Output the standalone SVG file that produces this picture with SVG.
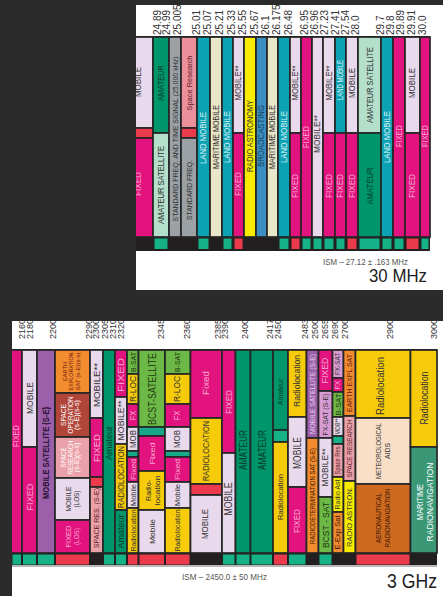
<svg xmlns="http://www.w3.org/2000/svg" width="443" height="596" viewBox="0 0 443 596">
<defs>
<style>
text{font-family:"Liberation Sans Narrow","Liberation Sans",Arial,sans-serif}
.c{stroke:#262626;stroke-width:1.7}
.fx{fill:#e2137e}.mo{fill:#e9d9ec}.rd{fill:#ea3a4c}.am{fill:#00966b}.as{fill:#b4e0cb}.gy{fill:#9ba1a5}.sr{fill:#eb8f9b}.lm{fill:#0ba2b4}.mm{fill:#eae6c8}.ra{fill:#f7ec00}.bc{fill:#3b8fc2}.sg{fill:#14b286}.ms{fill:#9c5fa9}.ee{fill:#f28c2e}.so{fill:#b2453a}.sp{fill:#eba1a9}.rl{fill:#f6cb0a}.bs{fill:#6db947}.th{fill:#17a88a}.fs{fill:#d99bd3}.me{fill:#f9dfc8}.ar{fill:#cd6a20}.mr{fill:#3a9877}
.v{text-anchor:middle}
.k{fill:#333}.p{fill:#f7a7cf}.g{fill:#053d2a}.w{fill:#fff}.t{fill:#e3f6f8}.b{fill:#173f5c}.d{fill:#1f3a10}.r{fill:#5a1c24}.o{fill:#6e1c10}.u{fill:#3a1500}
.n{font-size:10px;fill:#333}
.n2{font-size:9px;fill:#333}
</style>
<clipPath id="cpTop"><rect x="136" y="5" width="307" height="285"/></clipPath>
<clipPath id="cpBot"><rect x="12" y="321" width="431" height="275"/></clipPath>
</defs>
<rect x="0" y="0" width="443" height="596" fill="#2b2b2b"/>
<rect id="panel-top" x="136" y="5" width="307" height="285" fill="#fff"/>
<rect id="panel-bottom" x="12" y="321" width="431" height="275" fill="#fff"/>

<g id="top-chart" clip-path="url(#cpTop)">
<rect x="128" y="36" width="302" height="215" fill="#231f20"/>
<g id="top-cells">
<rect class="c mo" x="128" y="37" width="25" height="91"/><rect class="c rd" x="128" y="128" width="25" height="10"/><rect class="c fx" x="128" y="138" width="25" height="99"/>
<rect class="c am" x="153" y="37" width="16" height="96"/><rect class="c as" x="153" y="133" width="16" height="104"/>
<rect class="c gy" x="169" y="37" width="12" height="200"/>
<rect class="c sr" x="181" y="37" width="16" height="91"/><rect class="c rd" x="181" y="128" width="16" height="10"/><rect class="c gy" x="181" y="138" width="16" height="99"/>
<rect class="c lm" x="197" y="37" width="13" height="200"/>
<rect class="c mm" x="210" y="37" width="12" height="200"/>
<rect class="c lm" x="222" y="37" width="11" height="200"/>
<rect class="c mo" x="233" y="37" width="11" height="96"/><rect class="c fx" x="233" y="133" width="11" height="104"/>
<rect class="c ra" x="244" y="37" width="12" height="200"/>
<rect class="c bc" x="256" y="37" width="11" height="200"/>
<rect class="c mm" x="267" y="37" width="11" height="200"/>
<rect class="c lm" x="278" y="37" width="12" height="200"/>
<rect class="c mo" x="290" y="37" width="11" height="96"/><rect class="c fx" x="290" y="133" width="11" height="104"/>
<rect class="c fx" x="301" y="37" width="11" height="200"/>
<rect class="c mo" x="312" y="37" width="11" height="200"/>
<rect class="c mo" x="323" y="37" width="12" height="96"/><rect class="c fx" x="323" y="133" width="12" height="104"/>
<rect class="c lm" x="335" y="37" width="11" height="96"/><rect class="c fx" x="335" y="133" width="11" height="104"/>
<rect class="c mo" x="346" y="37" width="12" height="96"/><rect class="c fx" x="346" y="133" width="12" height="104"/>
<rect class="c as" x="358" y="37" width="23" height="96"/><rect class="c am" x="358" y="133" width="23" height="104"/>
<rect class="c lm" x="381" y="37" width="12" height="200"/>
<rect class="c fx" x="393" y="37" width="12" height="200"/>
<rect class="c mo" x="405" y="37" width="15" height="96"/><rect class="c fx" x="405" y="133" width="15" height="104"/>
<rect class="c fx" x="420" y="37" width="10" height="200"/>
</g>
<g id="top-strip">
<rect class="sg" x="154.5" y="238.5" width="13" height="10.5"/>
<rect class="sg" x="198.5" y="238.5" width="10" height="10.5"/>
<rect class="sg" x="223.5" y="238.5" width="8" height="10.5"/>
<rect class="rd" x="234.5" y="238.5" width="8" height="10.5"/>
<rect class="sg" x="279.5" y="238.5" width="9" height="10.5"/>
<rect class="rd" x="291.5" y="238.5" width="8" height="10.5"/>
<rect class="sg" x="302.5" y="238.5" width="8" height="10.5"/>
<rect class="sg" x="313.5" y="238.5" width="8" height="10.5"/>
<rect class="sg" x="324.5" y="238.5" width="9" height="10.5"/>
<rect class="sg" x="336.5" y="238.5" width="8" height="10.5"/>
<rect class="rd" x="347.5" y="238.5" width="9" height="10.5"/>
<rect class="sg" x="359.5" y="238.5" width="20" height="10.5"/>
<rect class="sg" x="382.5" y="238.5" width="9" height="10.5"/>
<rect class="sg" x="394.5" y="238.5" width="9" height="10.5"/>
<rect class="rd" x="406.5" y="238.5" width="12" height="10.5"/>
<rect class="sg" x="421.5" y="238.5" width="7" height="10.5"/>
</g>
<g id="top-labels" font-size="8.5">
<text class="v k" font-size="9" textLength="30" lengthAdjust="spacingAndGlyphs" dy=".35em" transform="translate(137.5,82) rotate(-90)">MOBILE</text>
<text class="v p" font-size="9" textLength="24" lengthAdjust="spacingAndGlyphs" dy=".35em" transform="translate(138,184) rotate(-90)">FIXED</text>
<text class="v g" font-size="9" textLength="36" lengthAdjust="spacingAndGlyphs" dy=".35em" transform="translate(161,83) rotate(-90)">AMATEUR</text>
<text class="v k" font-size="9" textLength="78" lengthAdjust="spacingAndGlyphs" dy=".35em" transform="translate(161,185) rotate(-90)">AMATEUR SATELLITE</text>
<text class="v k" font-size="8" textLength="165" lengthAdjust="spacingAndGlyphs" dy=".35em" transform="translate(175,139) rotate(-90)">STANDARD FREQ. AND TIME SIGNAL (25,000 kHz)</text>
<text class="v r" font-size="8" textLength="55" lengthAdjust="spacingAndGlyphs" dy=".35em" transform="translate(189,83) rotate(-90)">Space Research</text>
<text class="v k" font-size="8" textLength="60" lengthAdjust="spacingAndGlyphs" dy=".35em" transform="translate(189,190) rotate(-90)">STANDARD FREQ.</text>
<text class="v t" textLength="52" lengthAdjust="spacingAndGlyphs" dy=".35em" transform="translate(203.5,138) rotate(-90)">LAND MOBILE</text>
<text class="v k" textLength="64" lengthAdjust="spacingAndGlyphs" dy=".35em" transform="translate(216,137) rotate(-90)">MARITIME MOBILE</text>
<text class="v t" textLength="52" lengthAdjust="spacingAndGlyphs" dy=".35em" transform="translate(227.5,137) rotate(-90)">LAND MOBILE</text>
<text class="v k" textLength="35" lengthAdjust="spacingAndGlyphs" dy=".35em" transform="translate(238.5,83) rotate(-90)">MOBILE**</text>
<text class="v p" textLength="24" lengthAdjust="spacingAndGlyphs" dy=".35em" transform="translate(238.5,184) rotate(-90)">FIXED</text>
<text class="v k" textLength="72" lengthAdjust="spacingAndGlyphs" dy=".35em" transform="translate(250,136) rotate(-90)">RADIO ASTRONOMY</text>
<text class="v b" textLength="62" lengthAdjust="spacingAndGlyphs" dy=".35em" transform="translate(261.5,136) rotate(-90)">BROADCASTING</text>
<text class="v k" textLength="64" lengthAdjust="spacingAndGlyphs" dy=".35em" transform="translate(272.5,137) rotate(-90)">MARITIME MOBILE</text>
<text class="v t" textLength="52" lengthAdjust="spacingAndGlyphs" dy=".35em" transform="translate(284,137) rotate(-90)">LAND MOBILE</text>
<text class="v k" textLength="35" lengthAdjust="spacingAndGlyphs" dy=".35em" transform="translate(295.5,83) rotate(-90)">MOBILE**</text>
<text class="v p" textLength="24" lengthAdjust="spacingAndGlyphs" dy=".35em" transform="translate(295.5,186) rotate(-90)">FIXED</text>
<text class="v p" textLength="22" lengthAdjust="spacingAndGlyphs" dy=".35em" transform="translate(306.5,137) rotate(-90)">FIXED</text>
<text class="v k" textLength="38" lengthAdjust="spacingAndGlyphs" dy=".35em" transform="translate(317.5,134) rotate(-90)">MOBILE**</text>
<text class="v k" textLength="35" lengthAdjust="spacingAndGlyphs" dy=".35em" transform="translate(329,83) rotate(-90)">MOBILE**</text>
<text class="v p" textLength="24" lengthAdjust="spacingAndGlyphs" dy=".35em" transform="translate(329,186) rotate(-90)">FIXED</text>
<text class="v t" textLength="40" lengthAdjust="spacingAndGlyphs" dy=".35em" transform="translate(340.5,80) rotate(-90)">LAND MOBILE</text>
<text class="v p" textLength="24" lengthAdjust="spacingAndGlyphs" dy=".35em" transform="translate(340.5,186) rotate(-90)">FIXED</text>
<text class="v k" textLength="30" lengthAdjust="spacingAndGlyphs" dy=".35em" transform="translate(352,83) rotate(-90)">MOBILE</text>
<text class="v p" textLength="24" lengthAdjust="spacingAndGlyphs" dy=".35em" transform="translate(352,186) rotate(-90)">FIXED</text>
<text class="v k" font-size="9" textLength="76" lengthAdjust="spacingAndGlyphs" dy=".35em" transform="translate(369.5,85) rotate(-90)">AMATEUR SATELLITE</text>
<text class="v g" font-size="9" textLength="37" lengthAdjust="spacingAndGlyphs" dy=".35em" transform="translate(369.5,186) rotate(-90)">AMATEUR</text>
<text class="v t" textLength="52" lengthAdjust="spacingAndGlyphs" dy=".35em" transform="translate(387,137) rotate(-90)">LAND MOBILE</text>
<text class="v p" textLength="22" lengthAdjust="spacingAndGlyphs" dy=".35em" transform="translate(399,136) rotate(-90)">FIXED</text>
<text class="v k" textLength="30" lengthAdjust="spacingAndGlyphs" dy=".35em" transform="translate(412.5,83) rotate(-90)">MOBILE</text>
<text class="v p" textLength="24" lengthAdjust="spacingAndGlyphs" dy=".35em" transform="translate(412.5,186) rotate(-90)">FIXED</text>
<text class="v p" textLength="22" lengthAdjust="spacingAndGlyphs" dy=".35em" transform="translate(425,136) rotate(-90)">FIXED</text>
</g>
<g id="top-freqs" class="n">
<text dy=".35em" transform="translate(157,35) rotate(-90)">24.89</text>
<text dy=".35em" transform="translate(166,35) rotate(-90)">24.99</text>
<text dy=".35em" transform="translate(177,35) rotate(-90)">25.005</text>
<text dy=".35em" transform="translate(196,35) rotate(-90)">25.01</text>
<text dy=".35em" transform="translate(207.5,35) rotate(-90)">25.07</text>
<text dy=".35em" transform="translate(219,35) rotate(-90)">25.21</text>
<text dy=".35em" transform="translate(231,35) rotate(-90)">25.33</text>
<text dy=".35em" transform="translate(242,35) rotate(-90)">25.55</text>
<text dy=".35em" transform="translate(254,35) rotate(-90)">25.67</text>
<text dy=".35em" transform="translate(265,35) rotate(-90)">26.1</text>
<text dy=".35em" transform="translate(276,35) rotate(-90)">26.175</text>
<text dy=".35em" transform="translate(288,35) rotate(-90)">26.48</text>
<text dy=".35em" transform="translate(304,35) rotate(-90)">26.95</text>
<text dy=".35em" transform="translate(314,35) rotate(-90)">26.96</text>
<text dy=".35em" transform="translate(324.5,35) rotate(-90)">27.23</text>
<text dy=".35em" transform="translate(335.5,35) rotate(-90)">27.41</text>
<text dy=".35em" transform="translate(345.5,35) rotate(-90)">27.54</text>
<text dy=".35em" transform="translate(355.5,35) rotate(-90)">28.0</text>
<text dy=".35em" transform="translate(380,35) rotate(-90)">29.7</text>
<text dy=".35em" transform="translate(390.5,35) rotate(-90)">29.8</text>
<text dy=".35em" transform="translate(400.5,35) rotate(-90)">29.89</text>
<text dy=".35em" transform="translate(411,35) rotate(-90)">29.91</text>
<text dy=".35em" transform="translate(422.5,35) rotate(-90)">30.0</text>
</g>
<text id="ism-top" x="365.5" y="265" class="v" font-size="8.5" fill="#555" textLength="85" lengthAdjust="spacingAndGlyphs">ISM – 27.12 ± .163 MHz</text>
<text id="title-top" x="427" y="282" font-size="19" fill="#222" text-anchor="end" textLength="58" lengthAdjust="spacingAndGlyphs">30 MHz</text>
</g>

<g id="bottom-chart" clip-path="url(#cpBot)">
<rect x="4" y="349" width="433" height="216" fill="#231f20"/>
<g id="bottom-cells">
<rect class="c fx" x="4" y="350" width="18" height="203"/>
<rect class="c mo" x="22" y="350" width="15" height="97"/><rect class="c fx" x="22" y="447" width="15" height="106"/>
<rect class="c ms" x="37" y="350" width="18" height="203"/>
<rect class="c ee" x="55" y="350" width="35" height="43"/><rect class="c so" x="55" y="393" width="35" height="44"/><rect class="c sp" x="55" y="437" width="35" height="41"/><rect class="c mo" x="55" y="478" width="35" height="42"/><rect class="c fx" x="55" y="520" width="35" height="33"/>
<rect class="c mo" x="90" y="350" width="13" height="68"/><rect class="c fx" x="90" y="418" width="13" height="59"/><rect class="c rd" x="90" y="477" width="13" height="10"/><rect class="c sp" x="90" y="487" width="13" height="66"/>
<rect class="c am" x="103" y="350" width="12" height="203"/>
<rect class="c fx" x="115" y="350" width="12" height="47"/><rect class="c mo" x="115" y="397" width="12" height="47"/><rect class="c rl" x="115" y="444" width="12" height="66"/><rect class="c am" x="115" y="510" width="12" height="43"/>
<rect class="c bs" x="127" y="350" width="11.5" height="24"/><rect class="c rl" x="127" y="374" width="11.5" height="30"/><rect class="c fx" x="127" y="404" width="11.5" height="23"/><rect class="c mo" x="127" y="427" width="11.5" height="24"/><rect class="c th" x="127" y="451" width="11.5" height="6"/><rect class="c fx" x="127" y="457" width="11.5" height="25"/><rect class="c mo" x="127" y="482" width="11.5" height="26"/><rect class="c rl" x="127" y="508" width="11.5" height="45"/>
<rect class="c bs" x="138.5" y="350" width="26.5" height="77"/><rect class="c th" x="138.5" y="427" width="26.5" height="9"/><rect class="c fx" x="138.5" y="436" width="26.5" height="35"/><rect class="c rl" x="138.5" y="471" width="26.5" height="39"/><rect class="c mo" x="138.5" y="510" width="26.5" height="43"/>
<rect class="c bs" x="165" y="350" width="25.5" height="24"/><rect class="c rl" x="165" y="374" width="25.5" height="30"/><rect class="c fx" x="165" y="404" width="25.5" height="23"/><rect class="c mo" x="165" y="427" width="25.5" height="24"/><rect class="c th" x="165" y="451" width="25.5" height="6"/><rect class="c fx" x="165" y="457" width="25.5" height="25"/><rect class="c mo" x="165" y="482" width="25.5" height="26"/><rect class="c rl" x="165" y="508" width="25.5" height="45"/>
<rect class="c fx" x="190.5" y="350" width="31.5" height="68"/><rect class="c rl" x="190.5" y="418" width="31.5" height="66"/><rect class="c rd" x="190.5" y="484" width="31.5" height="11"/><rect class="c mo" x="190.5" y="495" width="31.5" height="58"/>
<rect class="c fx" x="222" y="350" width="13.5" height="103"/><rect class="c mo" x="222" y="453" width="13.5" height="100"/>
<rect class="c am" x="235.5" y="350" width="15" height="203"/>
<rect class="c am" x="250.5" y="350" width="22.5" height="203"/>
<rect class="c am" x="273" y="350" width="15" height="80"/><rect class="c sg" x="273" y="430" width="15" height="12"/><rect class="c rl" x="273" y="442" width="15" height="111"/>
<rect class="c rl" x="288" y="350" width="18.5" height="67"/><rect class="c mo" x="288" y="417" width="18.5" height="70"/><rect class="c fx" x="288" y="487" width="18.5" height="66"/>
<rect class="c ms" x="306.5" y="350" width="12" height="88"/><rect class="c ee" x="306.5" y="438" width="12" height="115"/>
<rect class="c fx" x="318.5" y="350" width="14" height="41"/><rect class="c fs" x="318.5" y="391" width="14" height="47"/><rect class="c mo" x="318.5" y="438" width="14" height="59"/><rect class="c bs" x="318.5" y="497" width="14" height="56"/>
<rect class="c fs" x="332.5" y="350" width="11" height="28"/><rect class="c fx" x="332.5" y="378" width="11" height="14"/><rect class="c bs" x="332.5" y="392" width="11" height="25"/><rect class="c mo" x="332.5" y="417" width="11" height="19"/><rect class="c sg" x="332.5" y="436" width="11" height="8"/><rect class="c sp" x="332.5" y="444" width="11" height="33"/><rect class="c ra" x="332.5" y="477" width="11" height="35"/><rect class="c ee" x="332.5" y="512" width="11" height="41"/>
<rect class="c ee" x="343.5" y="350" width="12" height="66"/><rect class="c sp" x="343.5" y="416" width="12" height="65"/><rect class="c ra" x="343.5" y="481" width="12" height="72"/>
<rect class="c rl" x="355.5" y="350" width="55" height="68"/><rect class="c me" x="355.5" y="418" width="55" height="66"/><rect class="c ar" x="355.5" y="484" width="55" height="69"/>
<rect class="c rl" x="410.5" y="350" width="26.5" height="97"/><rect class="c mr" x="410.5" y="447" width="26.5" height="106"/>
</g>
<g id="bottom-strip">
<rect class="sg" x="12.5" y="554.5" width="8.5" height="10"/>
<rect class="sg" x="23" y="554.5" width="13" height="10"/>
<rect class="sg" x="38" y="554.5" width="16" height="10"/>
<rect class="rd" x="56" y="554.5" width="33" height="10"/>
<rect class="sg" x="104" y="554.5" width="10" height="10"/>
<rect class="sg" x="116" y="554.5" width="10" height="10"/>
<rect class="rd" x="128" y="554.5" width="9.5" height="10"/>
<rect class="rd" x="139.5" y="554.5" width="24.5" height="10"/>
<rect class="rd" x="166" y="554.5" width="23.5" height="10"/>
<rect class="sg" x="223" y="554.5" width="11.5" height="10"/>
<rect class="sg" x="236.5" y="554.5" width="13" height="10"/>
<rect class="sg" x="251.5" y="554.5" width="20.5" height="10"/>
<rect class="rd" x="274" y="554.5" width="13" height="10"/>
<rect class="sg" x="289" y="554.5" width="16.5" height="10"/>
<rect class="sg" x="319.5" y="554.5" width="12" height="10"/>
<rect class="rd" x="356.5" y="554.5" width="53" height="10"/>
</g>
<line x1="12" y1="566" x2="437" y2="566" stroke="#a0a0a0" stroke-width="1.6"/>
<g id="bottom-labels" font-size="8">
<text class="v p" font-size="8.5" textLength="22" lengthAdjust="spacingAndGlyphs" dy=".35em" transform="translate(16.5,436) rotate(-90)">FIXED</text>
<text class="v k" font-size="9" textLength="32" lengthAdjust="spacingAndGlyphs" dy=".35em" transform="translate(29.5,398) rotate(-90)">MOBILE</text>
<text class="v p" font-size="9" textLength="27" lengthAdjust="spacingAndGlyphs" dy=".35em" transform="translate(29.5,497) rotate(-90)">FIXED</text>
<text class="v" fill="#2a1235" font-weight="bold" font-size="9.5" textLength="92" lengthAdjust="spacingAndGlyphs" dy=".35em" transform="translate(46,453) rotate(-90)">MOBILE SATELLITE (S-E)</text>
<g class="o" font-size="6">
<text class="v" textLength="19" lengthAdjust="spacingAndGlyphs" dy=".35em" transform="translate(65,371.5) rotate(-90)">EARTH</text>
<text class="v" textLength="38" lengthAdjust="spacingAndGlyphs" dy=".35em" transform="translate(71,371.5) rotate(-90)">EXPLORATION</text>
<text class="v" textLength="38" lengthAdjust="spacingAndGlyphs" dy=".35em" transform="translate(77.5,371.5) rotate(-90)">SAT (s-E)(s-s)</text>
</g>
<g class="w" font-size="6.5">
<text class="v" textLength="22" lengthAdjust="spacingAndGlyphs" dy=".35em" transform="translate(64,415) rotate(-90)">SPACE</text>
<text class="v" textLength="37" lengthAdjust="spacingAndGlyphs" dy=".35em" transform="translate(70.5,415) rotate(-90)">OPERATION</text>
<text class="v" textLength="30" lengthAdjust="spacingAndGlyphs" dy=".35em" transform="translate(77,415) rotate(-90)">(s-E)(s-s)</text>
<text class="v" textLength="20" lengthAdjust="spacingAndGlyphs" dy=".35em" transform="translate(64,457.5) rotate(-90)">SPACE</text>
<text class="v" textLength="34" lengthAdjust="spacingAndGlyphs" dy=".35em" transform="translate(70.5,457.5) rotate(-90)">RESEARCH</text>
<text class="v" textLength="30" lengthAdjust="spacingAndGlyphs" dy=".35em" transform="translate(77,457.5) rotate(-90)">(s-E)(s-s)</text>
</g>
<text class="v k" font-size="7.5" textLength="25" lengthAdjust="spacingAndGlyphs" dy=".35em" transform="translate(68,499) rotate(-90)">MOBILE</text>
<text class="v k" font-size="7.5" textLength="17" lengthAdjust="spacingAndGlyphs" dy=".35em" transform="translate(76,499) rotate(-90)">(LOS)</text>
<text class="v p" font-size="7.5" textLength="22" lengthAdjust="spacingAndGlyphs" dy=".35em" transform="translate(68,536.5) rotate(-90)">FIXED</text>
<text class="v p" font-size="7.5" textLength="17" lengthAdjust="spacingAndGlyphs" dy=".35em" transform="translate(76,536.5) rotate(-90)">(LOS)</text>
<text class="v k" font-size="9" textLength="44" lengthAdjust="spacingAndGlyphs" dy=".35em" transform="translate(96.5,385) rotate(-90)">MOBILE**</text>
<text class="v p" font-size="9" textLength="28" lengthAdjust="spacingAndGlyphs" dy=".35em" transform="translate(96.5,448) rotate(-90)">FIXED</text>
<text class="v r" font-size="8" textLength="60" lengthAdjust="spacingAndGlyphs" dy=".35em" transform="translate(96.5,518) rotate(-90)">SPACE RES. (S-E)</text>
<text class="v g" font-size="9" textLength="34" lengthAdjust="spacingAndGlyphs" dy=".35em" transform="translate(109,443) rotate(-90)">Amateur</text>
<text class="v p" font-size="9" textLength="34" lengthAdjust="spacingAndGlyphs" dy=".35em" transform="translate(121,375) rotate(-90)">FIXED</text>
<text class="v k" font-size="9" textLength="40" lengthAdjust="spacingAndGlyphs" dy=".35em" transform="translate(121,420.5) rotate(-90)">MOBILE**</text>
<text class="v k" font-size="9" textLength="62" lengthAdjust="spacingAndGlyphs" dy=".35em" transform="translate(121,477) rotate(-90)">RADIOLOCATION</text>
<text class="v g" font-size="9" textLength="34" lengthAdjust="spacingAndGlyphs" dy=".35em" transform="translate(121,531.5) rotate(-90)">Amateur</text>
<text class="v d" font-size="8" textLength="20" lengthAdjust="spacingAndGlyphs" dy=".35em" transform="translate(133,362) rotate(-90)">B-SAT</text>
<text class="v k" font-size="8.5" textLength="26" lengthAdjust="spacingAndGlyphs" dy=".35em" transform="translate(133,389) rotate(-90)">R-LOC</text>
<text class="v p" font-size="8.5" textLength="10" lengthAdjust="spacingAndGlyphs" dy=".35em" transform="translate(133,415.5) rotate(-90)">FX</text>
<text class="v k" font-size="8.5" textLength="18" lengthAdjust="spacingAndGlyphs" dy=".35em" transform="translate(133,439) rotate(-90)">MOB</text>
<text class="v p" font-size="8" textLength="21" lengthAdjust="spacingAndGlyphs" dy=".35em" transform="translate(133,469.5) rotate(-90)">Fixed</text>
<text class="v k" font-size="8" textLength="22" lengthAdjust="spacingAndGlyphs" dy=".35em" transform="translate(133,495) rotate(-90)">Mobile</text>
<text class="v k" font-size="8" textLength="42" lengthAdjust="spacingAndGlyphs" dy=".35em" transform="translate(133,530.5) rotate(-90)">Radiolocation</text>
<text class="v d" font-size="10.5" textLength="72" lengthAdjust="spacingAndGlyphs" dy=".35em" transform="translate(152,389) rotate(-90)">BCST-SATELLITE</text>
<text class="v p" font-size="8" textLength="22" lengthAdjust="spacingAndGlyphs" dy=".35em" transform="translate(152,453.5) rotate(-90)">Fixed</text>
<text class="v k" font-size="8" textLength="21" lengthAdjust="spacingAndGlyphs" dy=".35em" transform="translate(148,490.5) rotate(-90)">Radio-</text>
<text class="v k" font-size="8" textLength="30" lengthAdjust="spacingAndGlyphs" dy=".35em" transform="translate(157,490.5) rotate(-90)">location</text>
<text class="v k" font-size="8" textLength="25" lengthAdjust="spacingAndGlyphs" dy=".35em" transform="translate(152,531.5) rotate(-90)">Mobile</text>
<text class="v d" font-size="8" textLength="20" lengthAdjust="spacingAndGlyphs" dy=".35em" transform="translate(177.5,362) rotate(-90)">B-SAT</text>
<text class="v k" font-size="8.5" textLength="26" lengthAdjust="spacingAndGlyphs" dy=".35em" transform="translate(177.5,389) rotate(-90)">R-LOC</text>
<text class="v p" font-size="8.5" textLength="10" lengthAdjust="spacingAndGlyphs" dy=".35em" transform="translate(177.5,415.5) rotate(-90)">FX</text>
<text class="v k" font-size="8.5" textLength="18" lengthAdjust="spacingAndGlyphs" dy=".35em" transform="translate(177.5,439) rotate(-90)">MOB</text>
<text class="v p" font-size="8" textLength="21" lengthAdjust="spacingAndGlyphs" dy=".35em" transform="translate(177.5,469.5) rotate(-90)">Fixed</text>
<text class="v k" font-size="8" textLength="22" lengthAdjust="spacingAndGlyphs" dy=".35em" transform="translate(177.5,495) rotate(-90)">Mobile</text>
<text class="v k" font-size="8" textLength="42" lengthAdjust="spacingAndGlyphs" dy=".35em" transform="translate(177.5,530.5) rotate(-90)">Radiolocation</text>
<text class="v p" font-size="9" textLength="24" lengthAdjust="spacingAndGlyphs" dy=".35em" transform="translate(206,383) rotate(-90)">Fixed</text>
<text class="v k" font-size="9.5" textLength="60" lengthAdjust="spacingAndGlyphs" dy=".35em" transform="translate(206,451) rotate(-90)">RADIOLOCATION</text>
<text class="v k" font-size="9.5" textLength="30" lengthAdjust="spacingAndGlyphs" dy=".35em" transform="translate(205,524) rotate(-90)">MOBILE</text>
<text class="v p" font-size="9" textLength="24" lengthAdjust="spacingAndGlyphs" dy=".35em" transform="translate(228.5,402) rotate(-90)">FIXED</text>
<text class="v k" font-size="10" textLength="33" lengthAdjust="spacingAndGlyphs" dy=".35em" transform="translate(228.5,499) rotate(-90)">MOBILE</text>
<text class="v g" font-size="10" textLength="40" lengthAdjust="spacingAndGlyphs" dy=".35em" transform="translate(243,450) rotate(-90)">AMATEUR</text>
<text class="v g" font-size="10" textLength="40" lengthAdjust="spacingAndGlyphs" dy=".35em" transform="translate(262,450) rotate(-90)">AMATEUR</text>
<text class="v g" font-size="8" textLength="26" lengthAdjust="spacingAndGlyphs" dy=".35em" transform="translate(280.5,392) rotate(-90)">Amateur</text>
<text class="v k" font-size="8" textLength="46" lengthAdjust="spacingAndGlyphs" dy=".35em" transform="translate(280.5,497) rotate(-90)">Radiolocation</text>
<text class="v k" font-size="9" textLength="52" lengthAdjust="spacingAndGlyphs" dy=".35em" transform="translate(297,381) rotate(-90)">Radiolocation</text>
<text class="v k" font-size="10" textLength="32" lengthAdjust="spacingAndGlyphs" dy=".35em" transform="translate(297,453) rotate(-90)">MOBILE</text>
<text class="v p" font-size="9" textLength="24" lengthAdjust="spacingAndGlyphs" dy=".35em" transform="translate(297,521) rotate(-90)">FIXED</text>
<text class="v" fill="#e5d0ea" font-size="7.5" textLength="80" lengthAdjust="spacingAndGlyphs" dy=".35em" transform="translate(312.5,394) rotate(-90)">MOBILE SATELLITE (S-E)</text>
<text class="v u" font-size="7.5" textLength="96" lengthAdjust="spacingAndGlyphs" dy=".35em" transform="translate(312.5,496) rotate(-90)">RADIODETERMINATION SAT (S-E)</text>
<text class="v p" font-size="8.5" textLength="26" lengthAdjust="spacingAndGlyphs" dy=".35em" transform="translate(325.5,370.5) rotate(-90)">FIXED</text>
<text class="v k" font-size="7.5" textLength="42" lengthAdjust="spacingAndGlyphs" dy=".35em" transform="translate(325.5,414.5) rotate(-90)">FX-SAT (S-E)</text>
<text class="v k" font-size="8.5" textLength="38" lengthAdjust="spacingAndGlyphs" dy=".35em" transform="translate(325.5,467.5) rotate(-90)">MOBILE**</text>
<text class="v d" font-size="9" textLength="46" lengthAdjust="spacingAndGlyphs" dy=".35em" transform="translate(325.5,525) rotate(-90)">BCST - SAT</text>
<text class="v k" font-size="6.5" textLength="22" lengthAdjust="spacingAndGlyphs" dy=".35em" transform="translate(338,364) rotate(-90)">FX-SAT</text>
<text class="v p" font-size="7" textLength="9" lengthAdjust="spacingAndGlyphs" dy=".35em" transform="translate(338,385) rotate(-90)">FX</text>
<text class="v d" font-size="7.5" textLength="22" lengthAdjust="spacingAndGlyphs" dy=".35em" transform="translate(338,404.5) rotate(-90)">B-SAT</text>
<text class="v k" font-size="7" textLength="16" lengthAdjust="spacingAndGlyphs" dy=".35em" transform="translate(338,426.5) rotate(-90)">MOB**</text>
<text class="v r" font-size="6.5" textLength="28" lengthAdjust="spacingAndGlyphs" dy=".35em" transform="translate(338,460.5) rotate(-90)">Space Res</text>
<text class="v k" font-size="7" textLength="30" lengthAdjust="spacingAndGlyphs" dy=".35em" transform="translate(338,494.5) rotate(-90)">Radio Ast</text>
<text class="v u" font-size="7" textLength="34" lengthAdjust="spacingAndGlyphs" dy=".35em" transform="translate(338,532.5) rotate(-90)">E-Exp Sat</text>
<text class="v o" font-size="8" textLength="58" lengthAdjust="spacingAndGlyphs" dy=".35em" transform="translate(349.5,383) rotate(-90)">EARTH EXPL SAT</text>
<text class="v r" font-size="7.5" textLength="58" lengthAdjust="spacingAndGlyphs" dy=".35em" transform="translate(349.5,448.5) rotate(-90)">SPACE RESEARCH</text>
<text class="v k" font-size="8" textLength="60" lengthAdjust="spacingAndGlyphs" dy=".35em" transform="translate(349.5,517) rotate(-90)">RADIO ASTRON.</text>
<text class="v k" font-size="10" textLength="58" lengthAdjust="spacingAndGlyphs" dy=".35em" transform="translate(380,386) rotate(-90)">Radiolocation</text>
<text class="v k" font-size="7.5" textLength="56" lengthAdjust="spacingAndGlyphs" dy=".35em" transform="translate(378.5,451) rotate(-90)">METEOROLOGICAL</text>
<text class="v k" font-size="7.5" textLength="16" lengthAdjust="spacingAndGlyphs" dy=".35em" transform="translate(387.5,451) rotate(-90)">AIDS</text>
<text class="v u" font-size="7.5" textLength="50" lengthAdjust="spacingAndGlyphs" dy=".35em" transform="translate(378.5,518) rotate(-90)">AERONAUTICAL</text>
<text class="v u" font-size="7.5" textLength="59" lengthAdjust="spacingAndGlyphs" dy=".35em" transform="translate(387.5,518) rotate(-90)">RADIONAVIGATION</text>
<text class="v k" font-size="10" textLength="53" lengthAdjust="spacingAndGlyphs" dy=".35em" transform="translate(424,398) rotate(-90)">Radiolocation</text>
<text class="v w" font-size="9" textLength="36" lengthAdjust="spacingAndGlyphs" dy=".35em" transform="translate(420,502) rotate(-90)">MARITIME</text>
<text class="v w" font-size="9" textLength="79" lengthAdjust="spacingAndGlyphs" dy=".35em" transform="translate(429.5,502) rotate(-90)">RADIONAVIGATION</text>
</g>
<g id="bottom-freqs" class="n2">
<text dy=".35em" transform="translate(21.5,339) rotate(-90)">2160</text>
<text dy=".35em" transform="translate(30,339) rotate(-90)">2180</text>
<text dy=".35em" transform="translate(52.5,339) rotate(-90)">2200</text>
<text dy=".35em" transform="translate(88.5,339) rotate(-90)">2290</text>
<text dy=".35em" transform="translate(96,339) rotate(-90)">2300</text>
<text dy=".35em" transform="translate(104.5,339) rotate(-90)">2305</text>
<text dy=".35em" transform="translate(112.5,339) rotate(-90)">2310</text>
<text dy=".35em" transform="translate(121,339) rotate(-90)">2320</text>
<text dy=".35em" transform="translate(161,339) rotate(-90)">2345</text>
<text dy=".35em" transform="translate(187,339) rotate(-90)">2360</text>
<text dy=".35em" transform="translate(217.5,339) rotate(-90)">2385</text>
<text dy=".35em" transform="translate(225,339) rotate(-90)">2390</text>
<text dy=".35em" transform="translate(244.5,339) rotate(-90)">2400</text>
<text dy=".35em" transform="translate(269.5,339) rotate(-90)">2417</text>
<text dy=".35em" transform="translate(277.5,339) rotate(-90)">2450</text>
<text dy=".35em" transform="translate(304.5,339) rotate(-90)">2483</text>
<text dy=".35em" transform="translate(314.5,339) rotate(-90)">2500</text>
<text dy=".35em" transform="translate(324.5,339) rotate(-90)">2655</text>
<text dy=".35em" transform="translate(334.5,339) rotate(-90)">2690</text>
<text dy=".35em" transform="translate(344.5,339) rotate(-90)">2700</text>
<text dy=".35em" transform="translate(390,339) rotate(-90)">2900</text>
<text dy=".35em" transform="translate(433.5,339) rotate(-90)">3000</text>
</g>
<text id="ism-bottom" x="224.5" y="580" class="v" font-size="9" fill="#555" textLength="85" lengthAdjust="spacingAndGlyphs">ISM – 2450.0 ± 50 MHz</text>
<text id="title-bottom" x="437" y="588" font-size="20" fill="#222" text-anchor="end" textLength="50" lengthAdjust="spacingAndGlyphs">3 GHz</text>
</g>
</svg>
